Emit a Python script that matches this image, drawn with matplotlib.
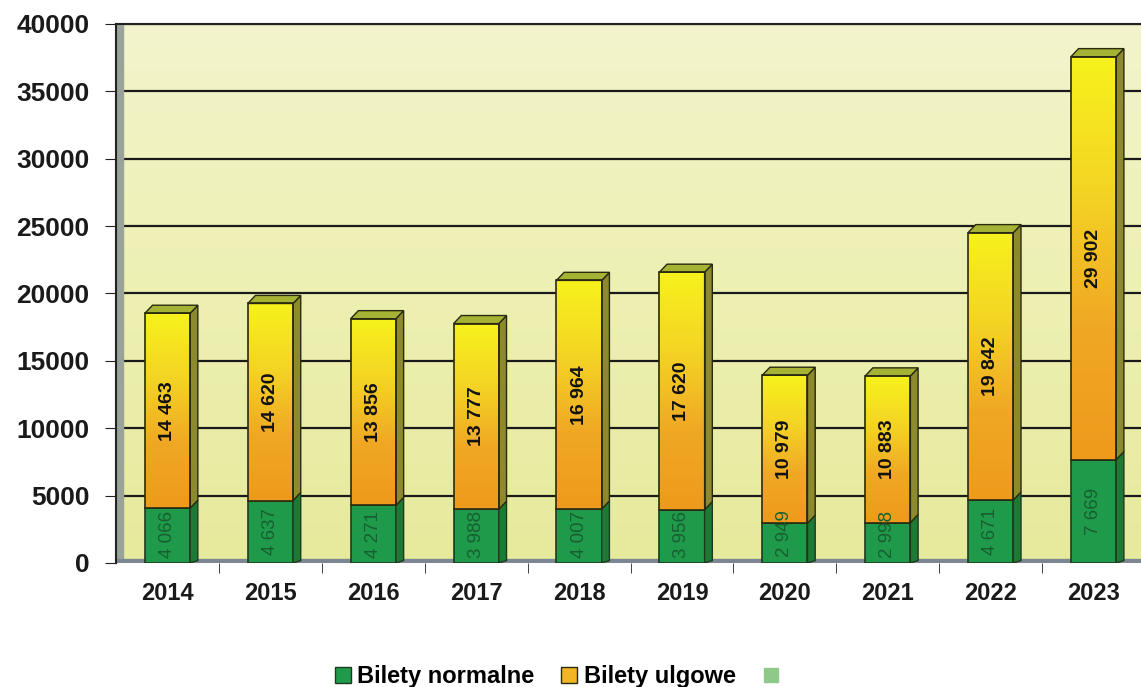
import numpy as np
import matplotlib
matplotlib.use("Agg")
import matplotlib.pyplot as plt
from matplotlib.colors import LinearSegmentedColormap
from matplotlib.patches import Polygon, Rectangle
from matplotlib.lines import Line2D

plt.rcParams["font.family"] = ["Liberation Sans", "DejaVu Sans"]

years = ["2014", "2015", "2016", "2017", "2018", "2019", "2020", "2021", "2022", "2023"]
normalne = [4066, 4637, 4271, 3988, 4007, 3956, 2949, 2998, 4671, 7669]
ulgowe = [14463, 14620, 13856, 13777, 16964, 17620, 10979, 10883, 19842, 29902]
legend_labels = ["Bilety normalne", "Bilety ulgowe"]
y_ticks = [0, 5000, 10000, 15000, 20000, 25000, 30000, 35000, 40000]


def fmt(v):
    return f"{v:,}".replace(",", " ")


fig = plt.figure(figsize=(11.41, 6.87), dpi=100)
ax = fig.add_axes([0.1017, 0.1805, 0.9018, 0.7846])
ax.set_xlim(-0.5, 9.5)
ax.set_ylim(0, 40000)

# background gradient of the plot area
bg = LinearSegmentedColormap.from_list("bg", ["#e6ea9c", "#edf0b2", "#f3f4cc"])
ax.imshow(np.linspace(0, 1, 256).reshape(-1, 1), cmap=bg, origin="lower",
          extent=[-0.5, 9.5, 0, 40000], aspect="auto", zorder=0)

for t in y_ticks[1:]:
    ax.axhline(t, color="#1a1a1a", lw=1.6, zorder=1)

# left wall and floor
ax.add_patch(Rectangle((-0.5, 0), 0.07, 40000, color="#9aa39a", zorder=1))
ax.axhline(0, color="#7d8794", lw=6, zorder=1)

w = 0.44
dx, dy = 0.075, 600
orange = LinearSegmentedColormap.from_list("ulg", ["#ee9a1c", "#f0a824", "#f4d424", "#f7f21c"])
x = np.arange(len(years))
for i, (n, u) in enumerate(zip(normalne, ulgowe)):
    x0 = x[i] - w / 2
    x1 = x[i] + w / 2
    top = n + u
    # green segment
    ax.add_patch(Rectangle((x0, 0), w, n, facecolor="#1f9a4b", edgecolor="#1e3a1e", lw=1.2, zorder=3))
    ax.add_patch(Polygon([(x1, 0), (x1 + dx, dy * 0.3), (x1 + dx, n + dy), (x1, n)],
                         closed=True, facecolor="#1c7a34", edgecolor="#1e3a1e", lw=1, zorder=3))
    # orange-yellow segment
    rect = Rectangle((x0, n), w, u, facecolor="none", edgecolor="#2a2a10", lw=1.2, zorder=4)
    ax.add_patch(rect)
    im = ax.imshow(np.linspace(0, 1, 256).reshape(-1, 1), cmap=orange, origin="lower",
                   extent=[x0, x1, n, top], aspect="auto", zorder=3)
    im.set_clip_path(rect)
    ax.add_patch(Polygon([(x1, n), (x1 + dx, n + dy), (x1 + dx, top + dy), (x1, top)],
                         closed=True, facecolor="#8c8a2c", edgecolor="#2a2a10", lw=1, zorder=3))
    ax.add_patch(Polygon([(x0, top), (x0 + dx, top + dy), (x1 + dx, top + dy), (x1, top)],
                         closed=True, facecolor="#a6b234", edgecolor="#2a2a10", lw=1, zorder=3))
    ax.text(x[i], max(n / 2, 2150), fmt(n), rotation=90, ha="center", va="center",
            fontsize=13.5, color="#175f30", zorder=5)
    ax.text(x[i], n + u / 2, fmt(u), rotation=90, ha="center", va="center",
            fontsize=14, fontweight="bold", color="#111111", zorder=5)

ax.set_yticks(y_ticks)
ax.set_yticklabels([str(t) for t in y_ticks], fontsize=19, fontweight="bold", color="#1a1a1a")
ax.set_xticks(x)
ax.set_xticklabels(years, fontsize=17, fontweight="bold", color="#1a1a1a")
ax.tick_params(axis="x", length=0, pad=14)
ax.set_xticks(x[:-1] + 0.5, minor=True)
ax.tick_params(axis="x", which="minor", length=7, color="#222222", direction="out")
ax.tick_params(axis="y", length=8, color="#222222", pad=11)

for s in ["right", "bottom"]:
    ax.spines[s].set_visible(False)
ax.spines["left"].set_color("#222222")
ax.spines["left"].set_linewidth(1.5)
ax.spines["top"].set_color("#222222")
ax.spines["top"].set_linewidth(1.5)

handles = [
    Line2D([], [], marker="s", ls="none", markersize=12, markerfacecolor="#1f9a4b", markeredgecolor="#1e3a1e"),
    Line2D([], [], marker="s", ls="none", markersize=12, markerfacecolor="#f2b624", markeredgecolor="#2a2a10"),
    Line2D([], [], marker="s", ls="none", markersize=10, markerfacecolor="#8fc98a", markeredgecolor="#8fc98a"),
]
fig.legend(handles, legend_labels + [""], loc="center", bbox_to_anchor=(0.489, 0.015), ncol=3,
           frameon=False, prop={"size": 17, "weight": "bold"}, handletextpad=0.1,
           columnspacing=1.0, handlelength=1.0)

fig.savefig("out.png", dpi=100)
